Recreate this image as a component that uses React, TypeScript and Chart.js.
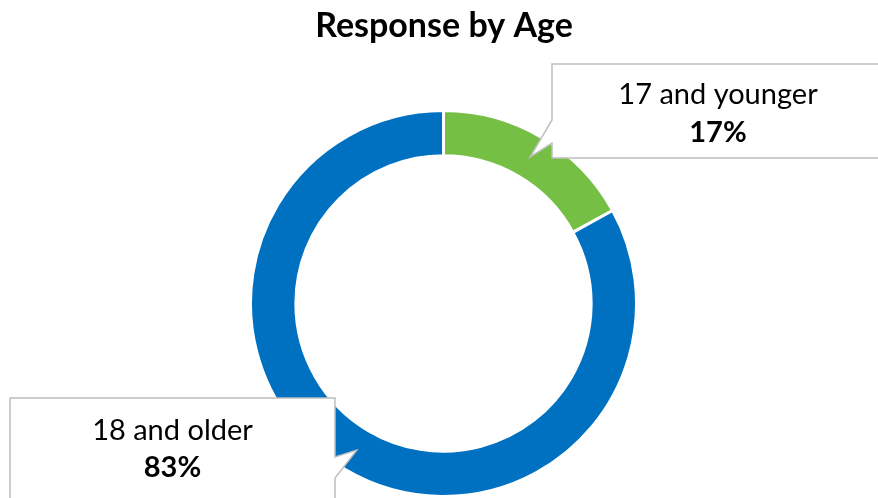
import React, { useEffect, useRef } from 'react';
import { Chart, registerables } from 'chart.js';

Chart.register(...registerables);

const TITLE = 'Response by Age';
const categories = ['17 and younger', '18 and older'];
const values = [17, 83];
const colors = ['#74BF44', '#0070C0'];
const FONT = 'Lato, "Open Sans", sans-serif';

const calloutPlugin = {
  id: 'callouts',
  afterDraw(chart: any) {
    const ctx = chart.ctx as CanvasRenderingContext2D;
    const meta = chart.getDatasetMeta(0);
    ctx.save();
    // title
    ctx.fillStyle = '#000';
    ctx.font = `bold 34px ${FONT}`;
    ctx.textAlign = 'center';
    ctx.textBaseline = 'middle';
    ctx.fillText(TITLE, 444, 26);

    const total = values.reduce((a, b) => a + b, 0);
    const boxes = [
      { x0: 552, y0: 64, x1: 886, y1: 158, side: 'left', b0: 120, b1: 143, cx: 718, l1: 95, l2: 133 },
      { x0: 10, y0: 398, x1: 335, y1: 506, side: 'right', b0: 457, b1: 478, cx: 172.5, l1: 431, l2: 468 },
    ];
    boxes.forEach((b, i) => {
      const arc = meta.data[i];
      const p = arc.getCenterPoint();
      ctx.beginPath();
      if (b.side === 'left') {
        ctx.moveTo(b.x0, b.y0);
        ctx.lineTo(b.x1, b.y0);
        ctx.lineTo(b.x1, b.y1);
        ctx.lineTo(b.x0, b.y1);
        ctx.lineTo(b.x0, b.b1);
        ctx.lineTo(p.x, p.y);
        ctx.lineTo(b.x0, b.b0);
        ctx.closePath();
      } else {
        ctx.moveTo(b.x0, b.y0);
        ctx.lineTo(b.x1, b.y0);
        ctx.lineTo(b.x1, b.b0);
        ctx.lineTo(p.x, p.y);
        ctx.lineTo(b.x1, b.b1);
        ctx.lineTo(b.x1, b.y1);
        ctx.lineTo(b.x0, b.y1);
        ctx.closePath();
      }
      ctx.fillStyle = '#ffffff';
      ctx.fill();
      ctx.strokeStyle = '#BFBFBF';
      ctx.lineWidth = 1.5;
      ctx.lineJoin = 'miter';
      ctx.stroke();

      ctx.fillStyle = '#000';
      ctx.font = `29px ${FONT}`;
      ctx.fillText(categories[i], b.cx, b.l1);
      ctx.font = `bold 29px ${FONT}`;
      ctx.fillText(Math.round((values[i] / total) * 100) + '%', b.cx, b.l2);
    });
    ctx.restore();
  },
};

export default function App() {
  const ref = useRef<HTMLCanvasElement>(null);
  useEffect(() => {
    if (!ref.current) return;
    const chart = new Chart(ref.current, {
      type: 'doughnut',
      data: {
        labels: categories,
        datasets: [
          {
            data: values,
            backgroundColor: colors,
            borderColor: '#ffffff',
            borderWidth: 3,
          },
        ],
      },
      options: {
        responsive: false,
        animation: false,
        cutout: '76.5%',
        layout: { padding: { top: 109, left: 249, right: 240, bottom: 0 } },
        plugins: {
          legend: { display: false },
          title: { display: false },
          tooltip: { enabled: false },
        },
      },
      plugins: [calloutPlugin],
    });
    return () => chart.destroy();
  }, []);
  return (
    <div style={{ position: 'fixed', left: 0, top: 0, width: 878, height: 498, background: '#fff' }}>
      <canvas ref={ref} width={878} height={498} style={{ width: 878, height: 498 }} />
    </div>
  );
}
